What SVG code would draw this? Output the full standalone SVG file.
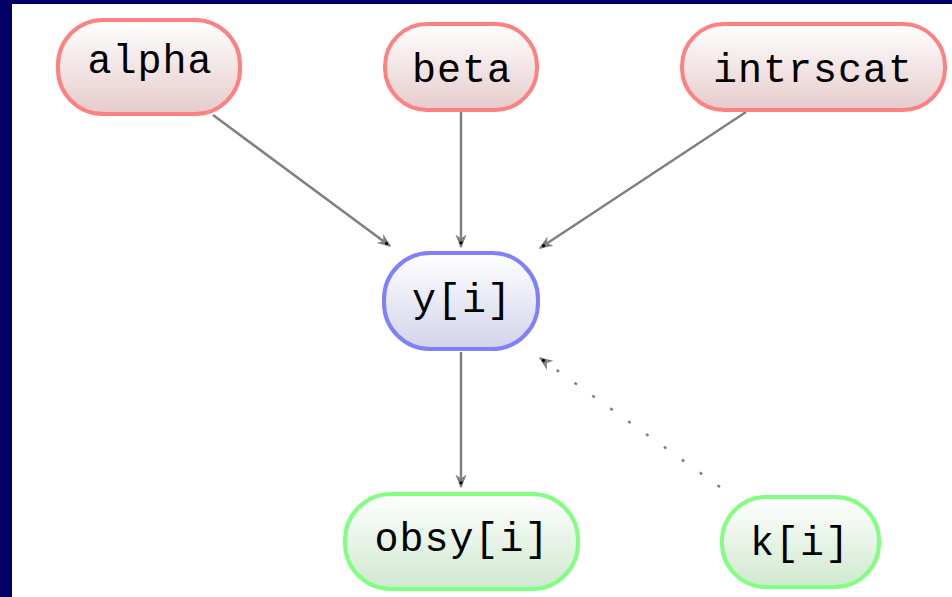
<svg xmlns="http://www.w3.org/2000/svg" width="952" height="597" viewBox="0 0 952 597">
<defs>
<linearGradient id="gp" x1="0" y1="0" x2="0" y2="1"><stop offset="0" stop-color="#ffffff"/><stop offset="1" stop-color="#e6cbcb"/></linearGradient>
<linearGradient id="gb" x1="0" y1="0" x2="0" y2="1"><stop offset="0" stop-color="#ffffff"/><stop offset="1" stop-color="#d2d4ea"/></linearGradient>
<linearGradient id="gg" x1="0" y1="0" x2="0" y2="1"><stop offset="0" stop-color="#ffffff"/><stop offset="1" stop-color="#cfe8cf"/></linearGradient>
<marker id="ah" viewBox="0 0 10 10" refX="9" refY="5" markerWidth="14" markerHeight="14" markerUnits="userSpaceOnUse" orient="auto">
<path d="M0,1 L10,5 L0,9 L3,5 Z" fill="#808080"/>
<circle cx="6" cy="5" r="1.2" fill="#000"/>
</marker>
<style>
.node rect{stroke-width:4}
.p rect{fill:url(#gp);stroke:#ff8080}
.b rect{fill:url(#gb);stroke:#8080ff}
.g rect{fill:url(#gg);stroke:#80ff80}
text{font-family:"Liberation Mono","DejaVu Sans Mono",monospace;font-size:40px;fill:#000;text-anchor:middle;letter-spacing:1px}
.e{stroke:#808080;stroke-width:2.5;fill:none;marker-end:url(#ah)}
.d{stroke-dasharray:3 19}
</style>
</defs>
<rect x="0" y="0" width="952" height="597" fill="#ffffff"/>
<rect x="0" y="0" width="952" height="4" fill="#000066"/>
<rect x="0" y="0" width="12" height="597" fill="#000066"/>
<g id="connectors">
<line class="e" x1="213" y1="115" x2="390" y2="246"/>
<line class="e" x1="461" y1="110" x2="461" y2="247"/>
<line class="e" x1="746" y1="112" x2="540" y2="248"/>
<line class="e" x1="461" y1="352" x2="461" y2="487"/>
<line class="e d" x1="720" y1="487" x2="540" y2="358"/>
</g>
<g id="alpha" class="node p"><rect x="58" y="20" width="182" height="94" rx="45"/><text x="150" y="73">alpha</text></g>
<g id="beta" class="node p"><rect x="385" y="24" width="152" height="86" rx="42"/><text x="462" y="82">beta</text></g>
<g id="intrscat" class="node p"><rect x="682" y="24" width="263" height="86" rx="42"/><text x="813" y="82">intrscat</text></g>
<g id="yi" class="node b"><rect x="384" y="253" width="154" height="96" rx="46"/><text x="462" y="312">y[i]</text></g>
<g id="obsyi" class="node g"><rect x="345" y="494" width="233" height="95" rx="46"/><text x="462" y="551">obsy[i]</text></g>
<g id="ki" class="node g"><rect x="722" y="497" width="157" height="90" rx="44"/><text x="800" y="555">k[i]</text></g>
</svg>
